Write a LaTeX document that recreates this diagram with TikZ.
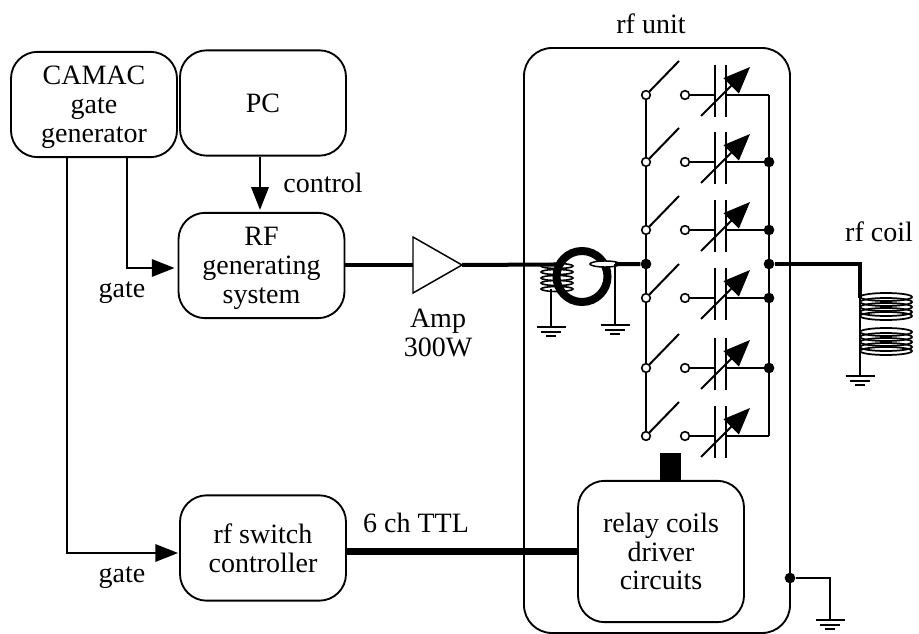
\documentclass[tikz,border=0pt]{standalone}
\usepackage{fontspec}
\setmainfont{Liberation Serif}
\usetikzlibrary{arrows.meta}
\usetikzlibrary{shapes.geometric}

\newcommand{\toppad}{\rule{0pt}{18pt}}

\tikzset{
  wire/.style={line width=1.5pt},
  bus/.style={line width=3pt},
  signal/.style={line width=1.5pt,-{Triangle[length=17pt,width=13pt]}},
  varcap/.style={line width=1.5pt,-{Triangle[length=20pt,width=16pt]}},
  unitbox/.style={draw,line width=1.4pt,rounded corners=20pt,minimum width=124.5pt,minimum height=79pt,inner sep=0pt,align=center},
  label/.style={inner sep=0pt,align=center},
  openpin/.style={circle,draw,fill=white,line width=1.2pt,minimum size=6.5pt,inner sep=0pt},
  solidpin/.style={circle,fill=black,minimum size=8pt,inner sep=0pt},
}

\begin{document}
\begin{tikzpicture}[x=.75pt,y=-.75pt,font=\fontsize{21}{21.5}\selectfont]
  \useasboundingbox (0,0) rectangle (919,634);

  \draw[line width=1.4pt,rounded corners=21pt] (524,48) rectangle (790,633);
  \node[label] (ru) at (651,24) {rf unit};

  \node[unitbox] (cg) at (94,104.5) {\toppad CAMAC\\gate\\generator};
  \node[unitbox] (pc) at (263,103) {PC};
  \node[unitbox] (rf) at (261.5,265.5) {\toppad RF\\generating\\system};
  \node[unitbox] (sc) at (263,548) {rf switch\\controller};
  \node[unitbox,minimum height=106pt] (rd) at (661,551.5) {relay coils\\driver\\circuits};

  \node[isosceles triangle,draw,line width=1.1pt,isosceles triangle stretches,minimum height=36.75pt,minimum width=42pt,inner sep=0pt,outer sep=0pt,anchor=lower side] (amp) at (413,265) {};

  \node[label] (ct) at (323,183) {control};
  \node[label] (g1) at (122,293) {gate};
  \node[label] (g2) at (122,578) {gate};
  \node[label] (am) at (438,333) {Amp\\300W};
  \node[label] (cl) at (879,232) {rf coil};
  \node[label] (tl) at (416,523) {6 ch TTL};

  \path (pc.south) +(-3,0) coordinate (pco) {};
  \path (rf.north) +(-1.5,-2) coordinate (rfi) {};
  \draw[signal] (pco) -- (pco |- rfi);
  \path (cg.south) +(33,0) coordinate (gi) {};
  \path (rf.west) +(-3,2.5) coordinate (gt) {};
  \draw[signal] (gi) |- (gt);
  \path (cg.south) +(-27,0) coordinate (gs) {};
  \path (sc.west) +(-1,5) coordinate (si) {};
  \draw[signal] (gs) |- (si);
  \draw[bus] (rf.east |- amp.lower side) -- (amp.lower side);
  \draw[line width=5.5pt] (sc.east |- rd.west) -- (rd.west);

  % switch rows
  \coordinate (lt) at (646,95);
  \coordinate (lb) at (646,436);
  \coordinate (rt) at (769,95);
  \coordinate (rb) at (769,436);
  \draw[wire] (lt) -- (lb);
  \draw[wire] (rt) -- (rb);
  \foreach \row/\yy in {1/95,2/162,3/230,4/298,5/368,6/436} {
    \coordinate (bl\row) at (715,\yy);
    \coordinate (br\row) at (726,\yy);
    \coordinate (st\row) at (679,\yy-34);
    \draw[wire] (715,\yy-30) -- (715,\yy+22);
    \draw[wire] (726,\yy-30) -- (726,\yy+22);
    \draw[varcap] (701,\yy+21) -- (750,\yy-28);
    \node[openpin] (sl\row) at (646,\yy) {};
    \node[openpin] (sr\row) at (685,\yy) {};
    \draw[wire] (sl\row) -- (st\row);
    \draw[wire] (sr\row) -- (bl\row);
    \draw[wire] (br\row) -- (769,\yy);
  }
  \foreach \row/\yy in {2/162,3/230,4/298,5/368} {
    \node[solidpin] (dr\row) at (769,\yy) {};
  }
  \node[solidpin] (jl) at (646,264) {};
  \node[solidpin] (jr) at (769,264) {};

  % input transformer
  \draw[bus] (amp.apex) -- (jl);
  \draw[line width=6pt,fill=white] (582,276.5) circle (25.5);
  \foreach \yy in {266,272,278,283,289} {
    \draw[line width=1.2pt] (557,\yy) ellipse (16 and 2.5);
  }
  \draw[line width=1.1pt,fill=white] (605,264) ellipse (15 and 3);
  \draw[bus] (615,264) -- (jl);
  \foreach \gx/\gy/\nm in {551/327/ga,615/325/gb,860/376/gc,830/620/gd} {
    \coordinate (\nm) at (\gx,\gy);
    \draw[wire] (\gx-14.5,\gy) -- (\gx+14.5,\gy);
    \draw[wire] (\gx-10,\gy+4.5) -- (\gx+10,\gy+4.5);
    \draw[wire] (\gx-5,\gy+9) -- (\gx+5,\gy+9);
  }
  \coordinate (ca) at (551,289);
  \coordinate (cb) at (615,264);
  \draw[wire] (ca) -- (ga);
  \draw[wire] (cb) -- (gb);

  % output coil
  \coordinate (co) at (860,298);
  \draw[bus] (jr) -| (co);
  \draw[wire] (co) -- (gc);
  \foreach \yy in {297,302,307,312,316,332,337,342,347,351} {
    \draw[line width=1.3pt] (886,\yy) ellipse (26 and 4);
  }

  \node[solidpin] (ug) at (790,578) {};
  \draw[wire] (ug) -| (gd);

  \coordinate (sq) at (670.5,453);
  \draw[line width=15.5pt] (sq) -- (rd.north -| sq);
\end{tikzpicture}
\end{document}
